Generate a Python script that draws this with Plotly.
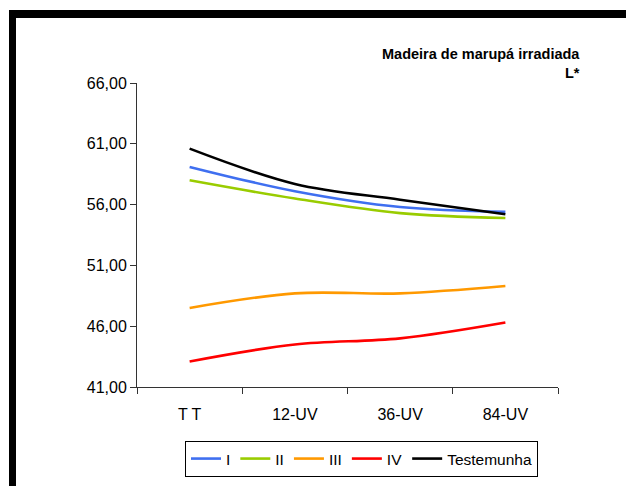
import plotly.graph_objects as go

categories = ["T T", "12-UV", "36-UV", "84-UV"]
serie_I = [59.1, 57.1, 55.8, 55.4]
serie_II = [58.0, 56.5, 55.3, 54.9]
serie_III = [47.5, 48.7, 48.7, 49.3]
serie_IV = [43.1, 44.5, 45.0, 46.3]
testemunha = [60.6, 57.7, 56.4, 55.2]

series_names = ["I", "II", "III", "IV", "Testemunha"]
series_values = [serie_I, serie_II, serie_III, serie_IV, testemunha]
series_colors = ["#3F6FF0", "#99CC00", "#FF9900", "#FF0000", "#000000"]

y_ticks = [41, 46, 51, 56, 61, 66]
y_ticklabels = ["41,00", "46,00", "51,00", "56,00", "61,00", "66,00"]

FONT = "Liberation Sans, Arial, sans-serif"

fig = go.Figure()
for name, vals, col in zip(series_names, series_values, series_colors):
    fig.add_trace(go.Scatter(
        x=categories, y=vals, name=name, mode="lines",
        line=dict(color=col, width=2.6, shape="spline", smoothing=1.0),
    ))

# page has an 8px body margin; work in screen pixels and convert
OFF = 8
W, H = 634 - OFF, 486 - OFF
L, T = 137 - OFF, 83 - OFF
pw, ph = 421, 304
R, B = W - L - pw, H - T - ph

def px_x(x):
    return (x - OFF - L) / pw

def px_y(y):
    return (T + ph - (y - OFF)) / ph

shapes = [
    dict(type="rect", xref="paper", yref="paper",
         x0=px_x(9), x1=px_x(640), y0=px_y(18), y1=px_y(10),
         fillcolor="black", line=dict(width=0), layer="above"),
    dict(type="rect", xref="paper", yref="paper",
         x0=px_x(9), x1=px_x(16), y0=px_y(495), y1=px_y(10),
         fillcolor="black", line=dict(width=0), layer="above"),
]

annotations = [
    dict(text="<b>Madeira de marupá irradiada</b>", xref="paper", yref="paper",
         x=px_x(582), y=px_y(54), xanchor="right", yanchor="middle",
         showarrow=False, font=dict(family=FONT, size=14.5, color="black")),
    dict(text="<b>L*</b>", xref="paper", yref="paper",
         x=px_x(582), y=px_y(73), xanchor="right", yanchor="middle",
         showarrow=False, font=dict(family=FONT, size=14.5, color="black")),
]

fig.update_layout(
    width=W, height=H,
    margin=dict(l=L, r=R, t=T, b=B, autoexpand=False),
    paper_bgcolor="white", plot_bgcolor="white",
    font=dict(family=FONT, size=16, color="black"),
    shapes=shapes, annotations=annotations,
    showlegend=True,
    legend=dict(orientation="h", x=px_x(185), y=px_y(441),
                xanchor="left", yanchor="top",
                bordercolor="black", borderwidth=1,
                font=dict(family=FONT, size=15.5, color="black"),
                itemwidth=30, tracegroupgap=0),
)
fig.update_xaxes(
    type="category", range=[-0.5, 3.5], showgrid=False, showline=True,
    linecolor="#333333", linewidth=1,
    ticks="outside", ticklen=6, tickcolor="#333333", tickson="boundaries",
    ticklabelstandoff=13, tickfont=dict(family=FONT, size=16),
)
fig.update_yaxes(
    range=[41, 66], tickvals=y_ticks, ticktext=y_ticklabels,
    showgrid=False, showline=True, linecolor="#333333", linewidth=1,
    ticks="outside", ticklen=6, tickcolor="#333333", zeroline=False,
    tickfont=dict(family=FONT, size=16),
)

fig.write_html("out.html")
